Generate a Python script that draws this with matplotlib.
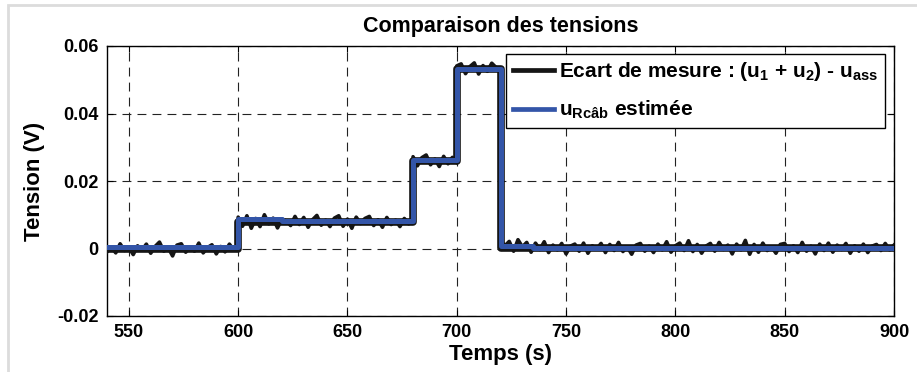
import numpy as np
import matplotlib
matplotlib.use('Agg')
import matplotlib.pyplot as plt
from matplotlib.patches import Rectangle

plt.rcParams.update({
    'font.family': 'Liberation Sans',
    'font.weight': 'bold',
    'mathtext.fontset': 'custom',
    'mathtext.rm': 'Liberation Sans:bold',
    'mathtext.it': 'Liberation Sans:bold',
    'mathtext.bf': 'Liberation Sans:bold',
    'xtick.direction': 'in',
    'ytick.direction': 'in',
})

BLACK = '#151515'
BLUE = '#3355a8'

seg_bounds = [540, 600, 680, 700, 720, 900]
seg_levels = [0.0, 0.0079, 0.0259, 0.0531, 0.0002]
noise_mv = [
    [-1.0, 0.5, -1.3, 1.4, -0.6, 0.3, -1.8, 0.8, -0.5, 1.3, -1.4, 0.6, 1.9, -0.8, 0.2, -2.2,
     1.0, 1.4, -1.1, 0.5, -0.8, 1.6, -1.3, 0.3, 1.1, -1.6, 0.6, -1.0, 1.3, -0.5, 0.3],
    [1.4, -1.3, 1.8, -1.9, 1.0, -1.4, 2.1, -0.6, 1.1, -1.8, 0.8, 0.3, -1.1, 1.6, -0.8, 1.3,
     -1.6, 0.6, 1.9, -1.0, 0.5, -1.4, 1.1, 1.8, -1.3, 0.8, -1.9, 1.4, -0.5, 1.0, 1.6, -1.1,
     0.6, -1.6, 1.3, -0.8, 0.5, -1.4, 1.0, -0.6, 0.8],
    [1.3, -1.4, 1.0, 1.8, -1.1, 0.6, -1.6, 1.4, -0.8, 1.1, -0.5],
    [1.0, 1.6, -1.3, 0.8, 1.9, -1.4, 1.1, -0.6, 1.8, 0.5, -1.0],
    [2.2, 0.6, 1.9, -1.0, 2.4, 0.3, 1.6, -1.3, 1.4, -0.5, 1.8, -1.4, 0.8, -0.6, 1.3, -1.8,
     0.5, 1.1, -1.0, 1.4, -1.6, 0.6, -0.3, 1.3, -1.4, 1.0, -0.8, 1.6, -1.1, 0.3, -1.9, 0.8,
     1.3, -1.0, 0.5, -1.4, 1.1, -0.6, 1.8, -1.3, 0.6, 1.4, -0.8, 2.1, -1.1, 1.0, -1.6, 0.5,
     1.3, -1.0, 1.6, -0.5, 0.8, -1.8, 1.1, -0.6, 2.2, -1.9, 1.0, -1.3, 1.4, -0.8, 0.3, -1.6,
     1.0, 1.3, -1.1, 0.6, -1.4, 1.6, -1.0, 0.5, -1.8, 1.1, -0.8, 1.4, -1.3, 0.8, -0.5, 1.3,
     -1.6, 0.6, -1.0, 1.1, -1.4, 0.5, 1.0, -0.8, 1.3, -0.6, 0.8],
]

# --- estimated u_Rcab (blue): step times and values
est_times = [540, 600, 620, 680, 700, 720, 735, 900]
est_values = [0.0004, 0.0086, 0.0081, 0.0262, 0.0531, 0.0007, 0.0001]

xticks = [550, 600, 650, 700, 750, 800, 850, 900]
yticks = [-0.02, 0, 0.02, 0.04, 0.06]
ytick_labels = ['-0.02', '0', '0.02', '0.04', '0.06']

t_meas, v_meas = [], []
for i, lev in enumerate(seg_levels):
    n = np.array(noise_mv[i]) * 1e-3
    t_meas.append(np.linspace(seg_bounds[i], seg_bounds[i + 1], len(n)))
    v_meas.append(lev + n)
t_meas = np.concatenate(t_meas)
v_meas = np.concatenate(v_meas)

fig = plt.figure(figsize=(9.17, 3.72), dpi=100)
ax = fig.add_axes([107 / 917, 1 - 316 / 372, 787 / 917, 270 / 372])

# light grey outer frame
fig.patches.append(Rectangle((8 / 917, -0.05), 1.0, 1.05 - 5 / 372, transform=fig.transFigure,
                             fill=False, edgecolor='#dcdcdc', linewidth=2.0))

# dense core of the noisy measurement, then the noise itself
ax.step(seg_bounds, seg_levels + [seg_levels[-1]], where='post', color=BLACK, lw=5.5,
        zorder=2)
ax.plot(t_meas, v_meas, color=BLACK, lw=2.6, solid_joinstyle='round',
        label='Ecart de mesure : (u$_1$ + u$_2$) - u$_{ass}$', zorder=3)
ax.step(est_times, est_values + [est_values[-1]], where='post', color=BLUE, lw=3.6,
        label='u$_{Rcâb}$ estimée', zorder=4)

ax.set_xlim(540, 900)
ax.set_ylim(-0.02, 0.06)
ax.set_xticks(xticks)
ax.set_yticks(yticks)
ax.set_yticklabels(ytick_labels)
ax.tick_params(labelsize=13, length=4, width=0.8, top=True, right=True, pad=6)
ax.grid(True, color='#222222', linestyle=(0, (8, 5.5)), linewidth=0.8)
for s in ax.spines.values():
    s.set_linewidth(1.0)

ax.set_title('Comparaison des tensions', fontsize=15.5, fontweight='bold', pad=10)
ax.set_xlabel('Temps (s)', fontsize=16, fontweight='bold', labelpad=2)
ax.set_ylabel('Tension (V)', fontsize=16, fontweight='bold', labelpad=9)

leg = ax.legend(loc='upper right', bbox_to_anchor=(0.9886, 0.97), fontsize=15,
                frameon=True, fancybox=False, framealpha=1, edgecolor='black',
                handlelength=2.0, handletextpad=0.25, borderpad=0.3, labelspacing=0.75,
                borderaxespad=0)
leg.get_frame().set_linewidth(1.0)
for line in leg.get_lines():
    line.set_linewidth(3.4)

fig.savefig('out.png', dpi=100)
